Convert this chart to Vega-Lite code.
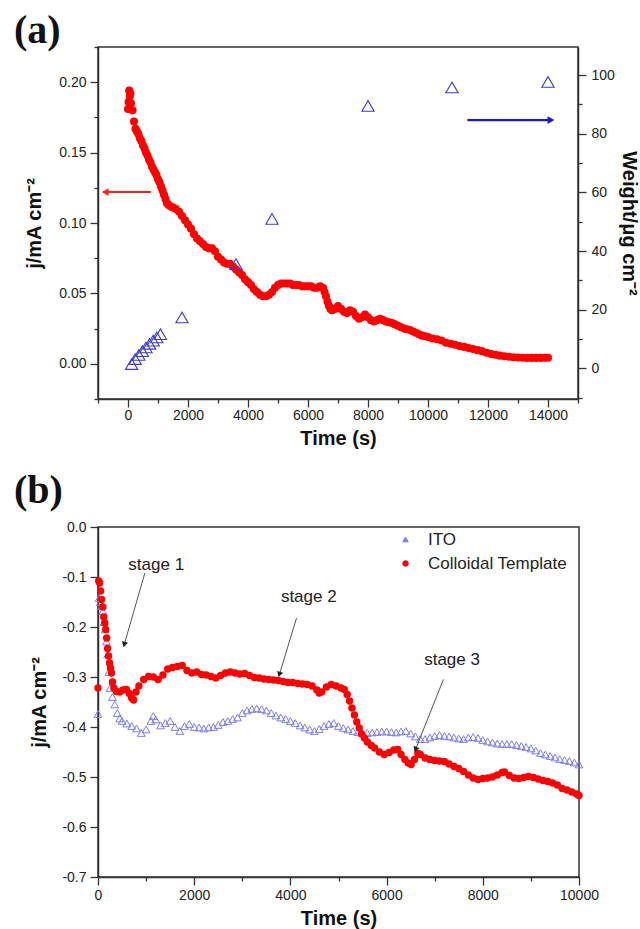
{
  "$schema": "https://vega.github.io/schema/vega-lite/v6.json",
  "background": "white",
  "padding": {"left": 13, "top": 10, "right": 0, "bottom": 0},
  "spacing": 21,
  "resolve": {
    "scale": {"color": "independent", "shape": "independent"},
    "legend": {"color": "independent", "shape": "independent"}
  },
  "config": {
    "view": {"stroke": "#333", "strokeWidth": 1.5},
    "axis": {"grid": false, "domainColor": "#333", "domainWidth": 1.5, "tickColor": "#333", "tickWidth": 1.3,
      "labelFont": "Liberation Sans", "labelFontSize": 14, "labelColor": "#222", "labelFlush": false, "labelOverlap": false,
      "titleFont": "Liberation Sans", "titleFontSize": 20, "titleFontWeight": "bold", "titleColor": "#111"},
    "title": {"font": "Liberation Serif", "fontSize": 40, "fontWeight": "bold", "color": "#111", "anchor": "start"}
  },
  "datasets": {
    "currentA": [
      {"t":0,"j":0.181},{"t":20,"j":0.186},{"t":40,"j":0.194},{"t":60,"j":0.19},{"t":80,"j":0.192},{"t":100,"j":0.185},
      {"t":150,"j":0.18},{"t":200,"j":0.172},{"t":250,"j":0.167},{"t":300,"j":0.165},{"t":350,"j":0.163},{"t":400,"j":0.16},
      {"t":450,"j":0.158},{"t":500,"j":0.155},{"t":550,"j":0.153},{"t":600,"j":0.15},{"t":650,"j":0.148},{"t":700,"j":0.145},
      {"t":750,"j":0.143},{"t":800,"j":0.14},{"t":850,"j":0.138},{"t":900,"j":0.136},{"t":950,"j":0.134},{"t":1000,"j":0.131},
      {"t":1050,"j":0.129},{"t":1100,"j":0.126},{"t":1150,"j":0.123},{"t":1200,"j":0.12},{"t":1250,"j":0.117},{"t":1300,"j":0.114},
      {"t":1350,"j":0.113},{"t":1400,"j":0.112},{"t":1500,"j":0.111},{"t":1600,"j":0.11},{"t":1700,"j":0.108},{"t":1800,"j":0.105},
      {"t":1900,"j":0.102},{"t":2000,"j":0.099},{"t":2100,"j":0.096},{"t":2200,"j":0.092},{"t":2300,"j":0.089},{"t":2400,"j":0.087},
      {"t":2500,"j":0.085},{"t":2600,"j":0.083},{"t":2700,"j":0.082},{"t":2800,"j":0.082},{"t":2900,"j":0.08},{"t":3000,"j":0.076},
      {"t":3100,"j":0.074},{"t":3200,"j":0.072},{"t":3300,"j":0.071},{"t":3400,"j":0.071},{"t":3500,"j":0.069},{"t":3600,"j":0.067},
      {"t":3700,"j":0.065},{"t":3800,"j":0.063},{"t":3900,"j":0.06},{"t":4000,"j":0.058},{"t":4100,"j":0.056},{"t":4200,"j":0.053},
      {"t":4300,"j":0.051},{"t":4400,"j":0.049},{"t":4500,"j":0.048},{"t":4600,"j":0.048},{"t":4700,"j":0.049},{"t":4800,"j":0.051},
      {"t":4900,"j":0.054},{"t":5000,"j":0.056},{"t":5100,"j":0.057},{"t":5200,"j":0.057},{"t":5300,"j":0.057},{"t":5400,"j":0.057},
      {"t":5500,"j":0.056},{"t":5600,"j":0.056},{"t":5700,"j":0.056},{"t":5800,"j":0.055},{"t":5900,"j":0.055},{"t":6000,"j":0.055},
      {"t":6100,"j":0.055},{"t":6200,"j":0.054},{"t":6300,"j":0.054},{"t":6400,"j":0.055},{"t":6500,"j":0.054},{"t":6550,"j":0.051},
      {"t":6600,"j":0.048},{"t":6650,"j":0.044},{"t":6700,"j":0.041},{"t":6750,"j":0.039},{"t":6800,"j":0.038},{"t":6900,"j":0.039},
      {"t":7000,"j":0.041},{"t":7100,"j":0.039},{"t":7200,"j":0.037},{"t":7300,"j":0.036},{"t":7400,"j":0.038},{"t":7500,"j":0.037},
      {"t":7600,"j":0.034},{"t":7700,"j":0.032},{"t":7800,"j":0.033},{"t":7900,"j":0.035},{"t":8000,"j":0.033},{"t":8100,"j":0.031},
      {"t":8200,"j":0.03},{"t":8300,"j":0.031},{"t":8400,"j":0.032},{"t":8500,"j":0.031},{"t":8600,"j":0.03},{"t":8700,"j":0.0295},
      {"t":8800,"j":0.029},{"t":8900,"j":0.028},{"t":9000,"j":0.027},{"t":9100,"j":0.026},{"t":9200,"j":0.025},{"t":9300,"j":0.0245},
      {"t":9400,"j":0.024},{"t":9500,"j":0.023},{"t":9600,"j":0.022},{"t":9700,"j":0.021},{"t":9800,"j":0.02},{"t":9900,"j":0.0195},
      {"t":10000,"j":0.019},{"t":10150,"j":0.018},{"t":10300,"j":0.0175},{"t":10450,"j":0.0165},{"t":10600,"j":0.015},{"t":10750,"j":0.0142},
      {"t":10900,"j":0.0135},{"t":11050,"j":0.0127},{"t":11200,"j":0.012},{"t":11350,"j":0.0112},{"t":11500,"j":0.0105},{"t":11650,"j":0.0097},
      {"t":11800,"j":0.009},{"t":11950,"j":0.0078},{"t":12100,"j":0.007},{"t":12250,"j":0.0064},{"t":12400,"j":0.0058},{"t":12550,"j":0.0053},
      {"t":12700,"j":0.005},{"t":12850,"j":0.0047},{"t":13000,"j":0.0045},{"t":13150,"j":0.0043},{"t":13300,"j":0.0042},{"t":13450,"j":0.0042},
      {"t":13600,"j":0.0042},{"t":13750,"j":0.0042},{"t":13900,"j":0.0043},{"t":14000,"j":0.0043}
    ],
    "weightA": [
      {"t":120,"w":1.5},{"t":240,"w":3.2},{"t":360,"w":4.6},{"t":480,"w":5.9},{"t":600,"w":7.2},{"t":720,"w":8.4},
      {"t":840,"w":9.5},{"t":960,"w":10.6},{"t":1080,"w":11.7},{"t":1800,"w":17.4},{"t":3600,"w":35.6},{"t":4800,"w":51},
      {"t":8000,"w":89.5},{"t":10800,"w":95.8},{"t":14000,"w":97.7}
    ],
    "arrowsA": [
      {"arrow":"current","x1":763,"x2":-760,"v":0.122},
      {"arrow":"weight","x1":11313,"x2":14100,"v":84.7}
    ],
    "seriesB": [
      {"series":"ITO","t":0,"j":-0.374},{"series":"ITO","t":25,"j":-0.142},{"series":"ITO","t":50,"j":-0.15},{"series":"ITO","t":75,"j":-0.158},
      {"series":"ITO","t":100,"j":-0.168},{"series":"ITO","t":125,"j":-0.19},{"series":"ITO","t":150,"j":-0.205},{"series":"ITO","t":175,"j":-0.229},
      {"series":"ITO","t":200,"j":-0.255},{"series":"ITO","t":225,"j":-0.29},{"series":"ITO","t":250,"j":-0.322},{"series":"ITO","t":300,"j":-0.34},
      {"series":"ITO","t":350,"j":-0.355},{"series":"ITO","t":400,"j":-0.372},{"series":"ITO","t":450,"j":-0.383},{"series":"ITO","t":500,"j":-0.388},
      {"series":"ITO","t":600,"j":-0.393},{"series":"ITO","t":700,"j":-0.398},{"series":"ITO","t":800,"j":-0.403},{"series":"ITO","t":900,"j":-0.412},
      {"series":"ITO","t":1000,"j":-0.405},{"series":"ITO","t":1100,"j":-0.388},{"series":"ITO","t":1150,"j":-0.378},{"series":"ITO","t":1200,"j":-0.385},
      {"series":"ITO","t":1300,"j":-0.397},{"series":"ITO","t":1400,"j":-0.392},{"series":"ITO","t":1500,"j":-0.388},{"series":"ITO","t":1600,"j":-0.4},
      {"series":"ITO","t":1700,"j":-0.408},{"series":"ITO","t":1800,"j":-0.398},{"series":"ITO","t":1900,"j":-0.394},{"series":"ITO","t":2000,"j":-0.4},
      {"series":"ITO","t":2100,"j":-0.401},{"series":"ITO","t":2200,"j":-0.403},{"series":"ITO","t":2300,"j":-0.401},{"series":"ITO","t":2400,"j":-0.4},
      {"series":"ITO","t":2500,"j":-0.396},{"series":"ITO","t":2600,"j":-0.39},{"series":"ITO","t":2700,"j":-0.388},{"series":"ITO","t":2800,"j":-0.384},
      {"series":"ITO","t":2900,"j":-0.381},{"series":"ITO","t":3000,"j":-0.372},{"series":"ITO","t":3100,"j":-0.367},{"series":"ITO","t":3200,"j":-0.364},
      {"series":"ITO","t":3300,"j":-0.363},{"series":"ITO","t":3400,"j":-0.364},{"series":"ITO","t":3500,"j":-0.367},{"series":"ITO","t":3600,"j":-0.372},
      {"series":"ITO","t":3700,"j":-0.377},{"series":"ITO","t":3800,"j":-0.381},{"series":"ITO","t":3900,"j":-0.384},{"series":"ITO","t":4000,"j":-0.388},
      {"series":"ITO","t":4100,"j":-0.392},{"series":"ITO","t":4200,"j":-0.397},{"series":"ITO","t":4300,"j":-0.401},{"series":"ITO","t":4400,"j":-0.405},
      {"series":"ITO","t":4500,"j":-0.408},{"series":"ITO","t":4600,"j":-0.404},{"series":"ITO","t":4700,"j":-0.398},{"series":"ITO","t":4800,"j":-0.394},
      {"series":"ITO","t":4900,"j":-0.392},{"series":"ITO","t":5000,"j":-0.398},{"series":"ITO","t":5100,"j":-0.402},{"series":"ITO","t":5200,"j":-0.405},
      {"series":"ITO","t":5300,"j":-0.408},{"series":"ITO","t":5400,"j":-0.41},{"series":"ITO","t":5500,"j":-0.412},{"series":"ITO","t":5600,"j":-0.412},
      {"series":"ITO","t":5700,"j":-0.411},{"series":"ITO","t":5800,"j":-0.41},{"series":"ITO","t":5900,"j":-0.409},{"series":"ITO","t":6000,"j":-0.409},
      {"series":"ITO","t":6100,"j":-0.41},{"series":"ITO","t":6200,"j":-0.411},{"series":"ITO","t":6300,"j":-0.409},{"series":"ITO","t":6400,"j":-0.408},
      {"series":"ITO","t":6500,"j":-0.413},{"series":"ITO","t":6600,"j":-0.419},{"series":"ITO","t":6700,"j":-0.424},{"series":"ITO","t":6800,"j":-0.424},
      {"series":"ITO","t":6900,"j":-0.421},{"series":"ITO","t":7000,"j":-0.418},{"series":"ITO","t":7100,"j":-0.416},{"series":"ITO","t":7200,"j":-0.418},
      {"series":"ITO","t":7300,"j":-0.419},{"series":"ITO","t":7400,"j":-0.421},{"series":"ITO","t":7500,"j":-0.423},{"series":"ITO","t":7600,"j":-0.424},
      {"series":"ITO","t":7700,"j":-0.421},{"series":"ITO","t":7800,"j":-0.42},{"series":"ITO","t":7900,"j":-0.422},{"series":"ITO","t":8000,"j":-0.426},
      {"series":"ITO","t":8100,"j":-0.429},{"series":"ITO","t":8200,"j":-0.431},{"series":"ITO","t":8300,"j":-0.433},{"series":"ITO","t":8400,"j":-0.434},
      {"series":"ITO","t":8500,"j":-0.434},{"series":"ITO","t":8600,"j":-0.434},{"series":"ITO","t":8700,"j":-0.436},{"series":"ITO","t":8800,"j":-0.438},
      {"series":"ITO","t":8900,"j":-0.44},{"series":"ITO","t":9000,"j":-0.443},{"series":"ITO","t":9100,"j":-0.447},{"series":"ITO","t":9200,"j":-0.452},
      {"series":"ITO","t":9300,"j":-0.455},{"series":"ITO","t":9400,"j":-0.458},{"series":"ITO","t":9500,"j":-0.461},{"series":"ITO","t":9600,"j":-0.464},
      {"series":"ITO","t":9700,"j":-0.466},{"series":"ITO","t":9800,"j":-0.468},{"series":"ITO","t":9900,"j":-0.471},{"series":"ITO","t":10000,"j":-0.475},
      {"series":"Colloidal Template","t":0,"j":-0.322},{"series":"Colloidal Template","t":15,"j":-0.108},{"series":"Colloidal Template","t":35,"j":-0.112},
      {"series":"Colloidal Template","t":55,"j":-0.128},{"series":"Colloidal Template","t":75,"j":-0.145},{"series":"Colloidal Template","t":100,"j":-0.16},
      {"series":"Colloidal Template","t":120,"j":-0.18},{"series":"Colloidal Template","t":140,"j":-0.192},{"series":"Colloidal Template","t":160,"j":-0.205},
      {"series":"Colloidal Template","t":180,"j":-0.222},{"series":"Colloidal Template","t":200,"j":-0.243},{"series":"Colloidal Template","t":220,"j":-0.258},
      {"series":"Colloidal Template","t":240,"j":-0.272},{"series":"Colloidal Template","t":260,"j":-0.282},{"series":"Colloidal Template","t":280,"j":-0.292},
      {"series":"Colloidal Template","t":300,"j":-0.31},{"series":"Colloidal Template","t":330,"j":-0.322},{"series":"Colloidal Template","t":380,"j":-0.329},
      {"series":"Colloidal Template","t":450,"j":-0.33},{"series":"Colloidal Template","t":520,"j":-0.326},{"series":"Colloidal Template","t":590,"j":-0.325},
      {"series":"Colloidal Template","t":650,"j":-0.333},{"series":"Colloidal Template","t":700,"j":-0.342},{"series":"Colloidal Template","t":740,"j":-0.346},
      {"series":"Colloidal Template","t":790,"j":-0.33},{"series":"Colloidal Template","t":850,"j":-0.318},{"series":"Colloidal Template","t":950,"j":-0.305},
      {"series":"Colloidal Template","t":1050,"j":-0.299},{"series":"Colloidal Template","t":1150,"j":-0.3},{"series":"Colloidal Template","t":1250,"j":-0.305},
      {"series":"Colloidal Template","t":1350,"j":-0.296},{"series":"Colloidal Template","t":1450,"j":-0.284},{"series":"Colloidal Template","t":1550,"j":-0.281},
      {"series":"Colloidal Template","t":1650,"j":-0.279},{"series":"Colloidal Template","t":1750,"j":-0.277},{"series":"Colloidal Template","t":1850,"j":-0.287},
      {"series":"Colloidal Template","t":1950,"j":-0.292},{"series":"Colloidal Template","t":2050,"j":-0.29},{"series":"Colloidal Template","t":2150,"j":-0.295},
      {"series":"Colloidal Template","t":2250,"j":-0.296},{"series":"Colloidal Template","t":2350,"j":-0.299},{"series":"Colloidal Template","t":2450,"j":-0.302},
      {"series":"Colloidal Template","t":2550,"j":-0.297},{"series":"Colloidal Template","t":2650,"j":-0.292},{"series":"Colloidal Template","t":2750,"j":-0.29},
      {"series":"Colloidal Template","t":2850,"j":-0.292},{"series":"Colloidal Template","t":2950,"j":-0.294},{"series":"Colloidal Template","t":3050,"j":-0.293},
      {"series":"Colloidal Template","t":3150,"j":-0.297},{"series":"Colloidal Template","t":3250,"j":-0.301},{"series":"Colloidal Template","t":3350,"j":-0.302},
      {"series":"Colloidal Template","t":3450,"j":-0.304},{"series":"Colloidal Template","t":3550,"j":-0.305},{"series":"Colloidal Template","t":3650,"j":-0.306},
      {"series":"Colloidal Template","t":3750,"j":-0.307},{"series":"Colloidal Template","t":3850,"j":-0.309},{"series":"Colloidal Template","t":3950,"j":-0.311},
      {"series":"Colloidal Template","t":4050,"j":-0.311},{"series":"Colloidal Template","t":4150,"j":-0.313},{"series":"Colloidal Template","t":4250,"j":-0.314},
      {"series":"Colloidal Template","t":4350,"j":-0.315},{"series":"Colloidal Template","t":4450,"j":-0.318},{"series":"Colloidal Template","t":4550,"j":-0.326},
      {"series":"Colloidal Template","t":4600,"j":-0.332},{"series":"Colloidal Template","t":4650,"j":-0.33},{"series":"Colloidal Template","t":4750,"j":-0.32},
      {"series":"Colloidal Template","t":4850,"j":-0.315},{"series":"Colloidal Template","t":4950,"j":-0.318},{"series":"Colloidal Template","t":5050,"j":-0.322},
      {"series":"Colloidal Template","t":5120,"j":-0.325},{"series":"Colloidal Template","t":5180,"j":-0.335},{"series":"Colloidal Template","t":5230,"j":-0.348},
      {"series":"Colloidal Template","t":5280,"j":-0.362},{"series":"Colloidal Template","t":5330,"j":-0.376},{"series":"Colloidal Template","t":5380,"j":-0.39},
      {"series":"Colloidal Template","t":5430,"j":-0.402},{"series":"Colloidal Template","t":5480,"j":-0.414},{"series":"Colloidal Template","t":5540,"j":-0.422},
      {"series":"Colloidal Template","t":5600,"j":-0.43},{"series":"Colloidal Template","t":5680,"j":-0.437},{"series":"Colloidal Template","t":5750,"j":-0.442},
      {"series":"Colloidal Template","t":5850,"j":-0.45},{"series":"Colloidal Template","t":5950,"j":-0.455},{"series":"Colloidal Template","t":6050,"j":-0.451},
      {"series":"Colloidal Template","t":6150,"j":-0.446},{"series":"Colloidal Template","t":6230,"j":-0.445},{"series":"Colloidal Template","t":6300,"j":-0.455},
      {"series":"Colloidal Template","t":6380,"j":-0.465},{"series":"Colloidal Template","t":6450,"j":-0.472},{"series":"Colloidal Template","t":6510,"j":-0.475},
      {"series":"Colloidal Template","t":6580,"j":-0.465},{"series":"Colloidal Template","t":6650,"j":-0.453},{"series":"Colloidal Template","t":6700,"j":-0.455},
      {"series":"Colloidal Template","t":6800,"j":-0.462},{"series":"Colloidal Template","t":6900,"j":-0.465},{"series":"Colloidal Template","t":7000,"j":-0.467},
      {"series":"Colloidal Template","t":7100,"j":-0.468},{"series":"Colloidal Template","t":7200,"j":-0.469},{"series":"Colloidal Template","t":7300,"j":-0.474},
      {"series":"Colloidal Template","t":7400,"j":-0.479},{"series":"Colloidal Template","t":7500,"j":-0.483},{"series":"Colloidal Template","t":7600,"j":-0.489},
      {"series":"Colloidal Template","t":7700,"j":-0.496},{"series":"Colloidal Template","t":7800,"j":-0.502},{"series":"Colloidal Template","t":7900,"j":-0.505},
      {"series":"Colloidal Template","t":8000,"j":-0.503},{"series":"Colloidal Template","t":8100,"j":-0.502},{"series":"Colloidal Template","t":8200,"j":-0.5},
      {"series":"Colloidal Template","t":8300,"j":-0.496},{"series":"Colloidal Template","t":8400,"j":-0.491},{"series":"Colloidal Template","t":8450,"j":-0.49},
      {"series":"Colloidal Template","t":8550,"j":-0.497},{"series":"Colloidal Template","t":8650,"j":-0.502},{"series":"Colloidal Template","t":8750,"j":-0.503},
      {"series":"Colloidal Template","t":8850,"j":-0.501},{"series":"Colloidal Template","t":8950,"j":-0.499},{"series":"Colloidal Template","t":9050,"j":-0.501},
      {"series":"Colloidal Template","t":9150,"j":-0.504},{"series":"Colloidal Template","t":9250,"j":-0.507},{"series":"Colloidal Template","t":9350,"j":-0.509},
      {"series":"Colloidal Template","t":9450,"j":-0.512},{"series":"Colloidal Template","t":9550,"j":-0.516},{"series":"Colloidal Template","t":9650,"j":-0.523},
      {"series":"Colloidal Template","t":9750,"j":-0.526},{"series":"Colloidal Template","t":9850,"j":-0.53},{"series":"Colloidal Template","t":9950,"j":-0.534},
      {"series":"Colloidal Template","t":10000,"j":-0.537}
    ],
    "arrowsB": [
      {"label":"stage 1","tx":1211,"ty":-0.075,"x1":974,"y1":-0.092,"x2":546,"y2":-0.235},
      {"label":"stage 2","tx":4382,"ty":-0.139,"x1":4128,"y1":-0.182,"x2":3771,"y2":-0.295},
      {"label":"stage 3","tx":7361,"ty":-0.265,"x1":7181,"y1":-0.305,"x2":6601,"y2":-0.445}
    ]
  },
  "vconcat": [
    {
      "width": 480,
      "height": 352,
      "title": {"text": "(a)", "frame": "group", "anchor": "start", "baseline": "alphabetic", "offset": -43, "dx": -84},
      "layer": [
        {
          "data": {"name": "currentA"},
          "mark": {"type": "point", "filled": true, "shape": "circle", "size": 65, "color": "#ff0000", "opacity": 1},
          "encoding": {
            "x": {"field": "t", "type": "quantitative",
              "scale": {"domain": [-1000, 15000], "nice": false, "zero": false},
              "axis": {"title": "Time (s)", "values": [-1000,0,1000,2000,3000,4000,5000,6000,7000,8000,9000,10000,11000,12000,13000,14000,15000],
                "format": "d",
                "labelExpr": "datum.value >= 0 && datum.value <= 14000 && datum.value % 2000 === 0 ? datum.label : ''",
                "tickSize": {"condition": {"test": "datum.value % 2000 === 0", "value": 8}, "value": 4},
                "labelPadding": 1, "titlePadding": 6}},
            "y": {"field": "j", "type": "quantitative",
              "scale": {"domain": [-0.025, 0.225], "nice": false, "zero": false},
              "axis": {"orient": "left", "title": "j/mA cm⁻²",
                "values": [-0.025,0,0.025,0.05,0.075,0.1,0.125,0.15,0.175,0.2,0.225],
                "labelExpr": "abs(round(datum.value*1000)) % 50 === 0 && datum.value >= 0 && datum.value < 0.21 ? format(datum.value, '.2f') : ''",
                "tickSize": {"condition": {"test": "abs(round(datum.value*1000)) % 50 === 0", "value": 8}, "value": 4},
                "labelPadding": 4, "titlePadding": 14}}
          }
        },
        {
          "data": {"name": "arrowsA"},
          "transform": [{"filter": "datum.arrow === 'current'"}],
          "mark": {"type": "rule", "color": "#ff2020", "strokeWidth": 2.2},
          "encoding": {"x": {"field": "x1", "type": "quantitative", "axis": null}, "x2": {"field": "x2"},
            "y": {"field": "v", "type": "quantitative", "scale": {"domain": [-0.025, 0.225], "nice": false, "zero": false}, "axis": null}}
        },
        {
          "data": {"name": "arrowsA"},
          "transform": [{"filter": "datum.arrow === 'current'"}],
          "mark": {"type": "point", "filled": true, "shape": "triangle-left", "size": 60, "color": "#ff2020", "opacity": 1},
          "encoding": {"x": {"field": "x2", "type": "quantitative", "axis": null},
            "y": {"field": "v", "type": "quantitative", "scale": {"domain": [-0.025, 0.225], "nice": false, "zero": false}, "axis": null}}
        },
        {
          "data": {"name": "weightA"},
          "mark": {"type": "point", "filled": false, "shape": "triangle-up", "size": 150, "color": "#3c3cc8", "strokeWidth": 1.1, "opacity": 1},
          "encoding": {
            "x": {"field": "t", "type": "quantitative", "axis": null},
            "y": {"field": "w", "type": "quantitative",
              "scale": {"domain": [-10.4, 109.6], "nice": false, "zero": false},
              "axis": {"orient": "right", "title": "Weight/μg cm⁻²",
                "values": [-10,0,10,20,30,40,50,60,70,80,90,100],
                "labelExpr": "datum.value >= 0 && datum.value % 20 === 0 ? datum.label : ''",
                "tickSize": {"condition": {"test": "datum.value % 20 === 0", "value": 8}, "value": 4},
                "labelPadding": 5, "titlePadding": 4}}
          }
        },
        {
          "data": {"name": "arrowsA"},
          "transform": [{"filter": "datum.arrow === 'weight'"}],
          "mark": {"type": "rule", "color": "#1818d0", "strokeWidth": 2.2},
          "encoding": {"x": {"field": "x1", "type": "quantitative", "axis": null}, "x2": {"field": "x2"},
            "y": {"field": "v", "type": "quantitative", "scale": {"domain": [-10.4, 109.6], "nice": false, "zero": false}, "axis": null}}
        },
        {
          "data": {"name": "arrowsA"},
          "transform": [{"filter": "datum.arrow === 'weight'"}],
          "mark": {"type": "point", "filled": true, "shape": "triangle-right", "size": 60, "color": "#1818d0", "opacity": 1},
          "encoding": {"x": {"field": "x2", "type": "quantitative", "axis": null},
            "y": {"field": "v", "type": "quantitative", "scale": {"domain": [-10.4, 109.6], "nice": false, "zero": false}, "axis": null}}
        }
      ],
      "resolve": {"scale": {"y": "independent"}, "axis": {"y": "independent", "x": "independent"}}
    },
    {
      "width": 481,
      "height": 350,
      "title": {"text": "(b)", "frame": "group", "anchor": "start", "baseline": "alphabetic", "offset": -23, "dx": -84},
      "layer": [
        {
          "data": {"name": "seriesB"},
          "transform": [{"filter": "datum.series === 'ITO'"}],
          "mark": {"type": "point", "filled": false, "strokeWidth": 1, "size": 60, "opacity": 1},
          "encoding": {
            "x": {"field": "t", "type": "quantitative",
              "scale": {"domain": [0, 10000], "nice": false},
              "axis": {"title": "Time (s)", "values": [0,1000,2000,3000,4000,5000,6000,7000,8000,9000,10000],
                "format": "d",
                "labelExpr": "datum.value % 2000 === 0 ? datum.label : ''",
                "tickSize": {"condition": {"test": "datum.value % 2000 === 0", "value": 8}, "value": 4},
                "labelPadding": 3, "titlePadding": 6}},
            "y": {"field": "j", "type": "quantitative",
              "scale": {"domain": [-0.7, 0], "nice": false, "zero": false},
              "axis": {"title": "j/mA cm⁻²",
                "values": [-0.7,-0.65,-0.6,-0.55,-0.5,-0.45,-0.4,-0.35,-0.3,-0.25,-0.2,-0.15,-0.1,-0.05,0],
                "labelExpr": "abs(round(datum.value*100)) % 10 === 0 ? replace(format(datum.value, '.1f'), '−', '-') : ''",
                "tickSize": {"condition": {"test": "abs(round(datum.value*100)) % 10 === 0", "value": 8}, "value": 4},
                "labelPadding": 4, "titlePadding": 12}},
            "color": {"field": "series", "type": "nominal",
              "scale": {"domain": ["ITO", "Colloidal Template"], "range": ["#7a7aff", "#ff0000"]},
              "legend": {"orient": "none", "legendX": 299, "legendY": 4, "title": null, "labelFont": "Liberation Sans", "labelFontSize": 17, "labelColor": "#222", "symbolSize": 30, "symbolStrokeWidth": 1, "rowPadding": 6, "labelOffset": 14,
                "encode": {"symbols": {"update": {"fill": {"signal": "datum.value === 'ITO' ? 'transparent' : '#ff0000'"}, "fillOpacity": {"signal": "datum.value === 'ITO' ? 0 : 1"}}}}}},
            "shape": {"field": "series", "type": "nominal",
              "scale": {"domain": ["ITO", "Colloidal Template"], "range": ["triangle-up", "circle"]},
              "legend": {"orient": "none", "legendX": 299, "legendY": 4, "title": null, "labelFont": "Liberation Sans", "labelFontSize": 17, "labelColor": "#222", "symbolSize": 30, "symbolStrokeWidth": 1, "rowPadding": 6, "labelOffset": 14,
                "encode": {"symbols": {"update": {"fill": {"signal": "datum.value === 'ITO' ? 'transparent' : '#ff0000'"}, "fillOpacity": {"signal": "datum.value === 'ITO' ? 0 : 1"}}}}}}
          }
        },
        {
          "data": {"name": "seriesB"},
          "transform": [{"filter": "datum.series === 'Colloidal Template'"}],
          "mark": {"type": "point", "filled": true, "size": 55, "opacity": 1},
          "encoding": {
            "x": {"field": "t", "type": "quantitative"},
            "y": {"field": "j", "type": "quantitative"},
            "color": {"field": "series", "type": "nominal"},
            "shape": {"field": "series", "type": "nominal"}
          }
        },
        {
          "data": {"name": "arrowsB"},
          "mark": {"type": "rule", "color": "#555", "strokeWidth": 1},
          "encoding": {"x": {"field": "x1", "type": "quantitative"}, "x2": {"field": "x2"}, "y": {"field": "y1", "type": "quantitative"}, "y2": {"field": "y2"}}
        },
        {
          "data": {"name": "arrowsB"},
          "transform": [{"filter": "datum.label === 'stage 1'"}],
          "mark": {"type": "point", "filled": true, "shape": "triangle-up", "size": 40, "angle": 196, "color": "#222", "opacity": 1},
          "encoding": {"x": {"field": "x2", "type": "quantitative"}, "y": {"field": "y2", "type": "quantitative"}}
        },
        {
          "data": {"name": "arrowsB"},
          "transform": [{"filter": "datum.label === 'stage 2'"}],
          "mark": {"type": "point", "filled": true, "shape": "triangle-up", "size": 40, "angle": 197, "color": "#222", "opacity": 1},
          "encoding": {"x": {"field": "x2", "type": "quantitative"}, "y": {"field": "y2", "type": "quantitative"}}
        },
        {
          "data": {"name": "arrowsB"},
          "transform": [{"filter": "datum.label === 'stage 3'"}],
          "mark": {"type": "point", "filled": true, "shape": "triangle-up", "size": 40, "angle": 202, "color": "#222", "opacity": 1},
          "encoding": {"x": {"field": "x2", "type": "quantitative"}, "y": {"field": "y2", "type": "quantitative"}}
        },
        {
          "data": {"name": "arrowsB"},
          "mark": {"type": "text", "font": "Liberation Sans", "fontSize": 17, "color": "#222", "align": "center", "baseline": "middle"},
          "encoding": {"x": {"field": "tx", "type": "quantitative"}, "y": {"field": "ty", "type": "quantitative"}, "text": {"field": "label"}}
        }
      ]
    }
  ]
}
